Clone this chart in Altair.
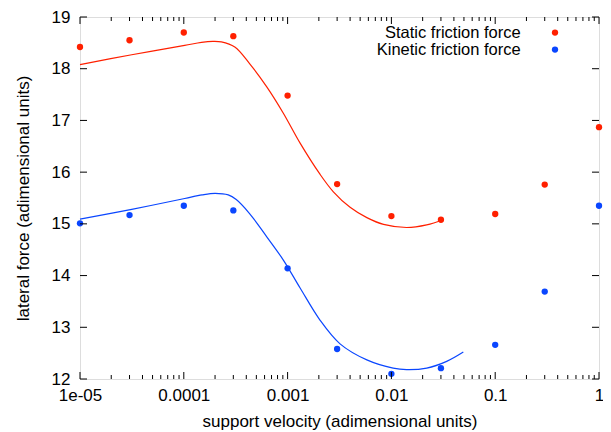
import altair as alt
import pandas as pd

# ---- data ----
velocity = [1e-5, 3e-5, 1e-4, 3e-4, 1e-3, 3e-3, 1e-2, 3e-2, 1e-1, 3e-1, 1.0]
static_force = [18.42, 18.55, 18.70, 18.63, 17.48, 15.77, 15.15, 15.08, 15.19, 15.76, 16.87]
kinetic_force = [15.01, 15.17, 15.35, 15.26, 14.14, 12.58, 12.10, 12.21, 12.66, 13.69, 15.35]

static_fit_v = [1e-5, 3.15e-5, 1.02e-4, 1.48e-4, 1.9e-4, 2.3e-4, 3.1e-4, 4.3e-4, 6.3e-4,
                9.1e-4, 1.32e-3, 2.05e-3, 2.76e-3, 4.0e-3, 5.8e-3, 8.4e-3, 1.4e-2, 2.19e-2, 3.16e-2]
static_fit_f = [18.08, 18.27, 18.45, 18.51, 18.53, 18.52, 18.42, 18.10, 17.65,
                17.14, 16.56, 15.96, 15.62, 15.32, 15.12, 14.99, 14.93, 14.98, 15.08]

kinetic_fit_v = [1e-5, 3.15e-5, 1.02e-4, 1.5e-4, 2.0e-4, 2.68e-4, 3.2e-4, 4.3e-4, 6.3e-4,
                 9.1e-4, 1.32e-3, 2.05e-3, 3.2e-3, 5.8e-3, 1.04e-2, 1.4e-2, 2.19e-2, 3.41e-2, 4.93e-2]
kinetic_fit_f = [15.09, 15.28, 15.49, 15.56, 15.59, 15.56, 15.47, 15.20, 14.75,
                 14.30, 13.76, 13.14, 12.68, 12.37, 12.21, 12.18, 12.21, 12.34, 12.52]

series_names = ["Static friction force", "Kinetic friction force"]
series_colors = ["#ff2000", "#0a46ff"]

x_major = [1e-5, 1e-4, 1e-3, 1e-2, 1e-1, 1.0]
x_major_labels = ["1e-05", "0.0001", "0.001", "0.01", "0.1", "1"]
x_minor = [m * 10.0 ** e for e in range(-5, 0) for m in range(2, 10)]
y_major = [12, 13, 14, 15, 16, 17, 18, 19]

# ---- tables ----
points = pd.concat([
    pd.DataFrame({"v": velocity, "f": static_force, "series": series_names[0]}),
    pd.DataFrame({"v": velocity, "f": kinetic_force, "series": series_names[1]}),
])
fits = pd.concat([
    pd.DataFrame({"v": static_fit_v, "f": static_fit_f, "series": series_names[0]}),
    pd.DataFrame({"v": kinetic_fit_v, "f": kinetic_fit_f, "series": series_names[1]}),
])
xmaj = pd.DataFrame({"v": x_major})
xmin = pd.DataFrame({"v": x_minor})
ymaj = pd.DataFrame({"f": y_major})

W, H = 519, 362
FONT = "Liberation Sans"

label_expr = ""
for v, lab in zip(x_major[:-1], x_major_labels[:-1]):
    label_expr += f"datum.value < {v * 3} ? '{lab}' : "
label_expr += f"'{x_major_labels[-1]}'"

xscale = alt.Scale(type="log", domain=[x_major[0], x_major[-1]], nice=False)
yscale = alt.Scale(domain=[y_major[0], y_major[-1]], nice=False, zero=False)
cscale = alt.Scale(domain=series_names, range=series_colors)

x_axis = alt.Axis(values=x_major, labelExpr=label_expr, title="support velocity (adimensional units)",
                  grid=False, ticks=False, tickSize=0, domain=False, labelPadding=8,
                  labelFontSize=17, labelFont=FONT, labelColor="black", labelBaseline="top",
                  titleFontSize=17, titleFont=FONT, titleFontWeight="normal", titleColor="black",
                  titleY=47, titleBaseline="alphabetic", labelFlush=False)
y_axis = alt.Axis(values=y_major, title="lateral force (adimensional units)",
                  grid=False, ticks=False, tickSize=0, domain=False, labelPadding=10,
                  labelFontSize=17, labelFont=FONT, labelColor="black",
                  titleFontSize=17, titleFont=FONT, titleFontWeight="normal", titleColor="black",
                  titleX=-52, titleY=H / 2, titleAngle=270, titleBaseline="alphabetic",
                  titleAlign="center", labelFlush=False)

X = alt.X("v:Q", scale=xscale, axis=x_axis)
Y = alt.Y("f:Q", scale=yscale, axis=y_axis)

pts = alt.Chart(points).mark_point(filled=True, size=40, opacity=1, shape="circle").encode(
    x=X, y=Y,
    color=alt.Color("series:N", scale=cscale, legend=None),
)

lines = alt.Chart(fits).mark_line(strokeWidth=1.2, interpolate="catmull-rom").encode(
    x=X, y=Y,
    color=alt.Color("series:N", scale=cscale, legend=None),
    detail="series:N",
)

def xticks(df, length):
    b = alt.Chart(df).mark_rule(color="black", strokeWidth=1).encode(
        x=X, y=alt.value(H), y2=alt.value(H - length))
    t = alt.Chart(df).mark_rule(color="black", strokeWidth=1).encode(
        x=X, y=alt.value(0), y2=alt.value(length))
    return [b, t]

def yticks(df, length):
    l = alt.Chart(df).mark_rule(color="black", strokeWidth=1).encode(
        y=Y, x=alt.value(0), x2=alt.value(length))
    r = alt.Chart(df).mark_rule(color="black", strokeWidth=1).encode(
        y=Y, x=alt.value(W), x2=alt.value(W - length))
    return [l, r]

# legend (text left of symbol, as in the reference)
legend_layers = []
for i, name in enumerate(series_names):
    ldf = pd.DataFrame({"series": [name]})
    ty = 15.6 + 17 * i
    legend_layers.append(alt.Chart(ldf).mark_text(
        align="right", baseline="middle", font=FONT, fontSize=16.5, color="black").encode(
        text="series:N", x=alt.value(440.7), y=alt.value(ty)))
    legend_layers.append(alt.Chart(ldf).mark_point(
        filled=True, size=40, opacity=1, shape="circle").encode(
        color=alt.Color("series:N", scale=cscale, legend=None),
        x=alt.value(475), y=alt.value(ty)))

layers = [pts, lines] + xticks(xmaj, 7) + xticks(xmin, 4) + yticks(ymaj, 7) + legend_layers

chart = alt.layer(*layers).properties(
    width=W, height=H,
    autosize=alt.AutoSizeParams(type="none"),
    padding={"left": 72, "top": 9, "right": 4, "bottom": 52},
).configure_view(stroke="black", strokeWidth=1.2).configure(background="white")

chart.save("out.html", embed_options={"renderer": "svg", "actions": False})
